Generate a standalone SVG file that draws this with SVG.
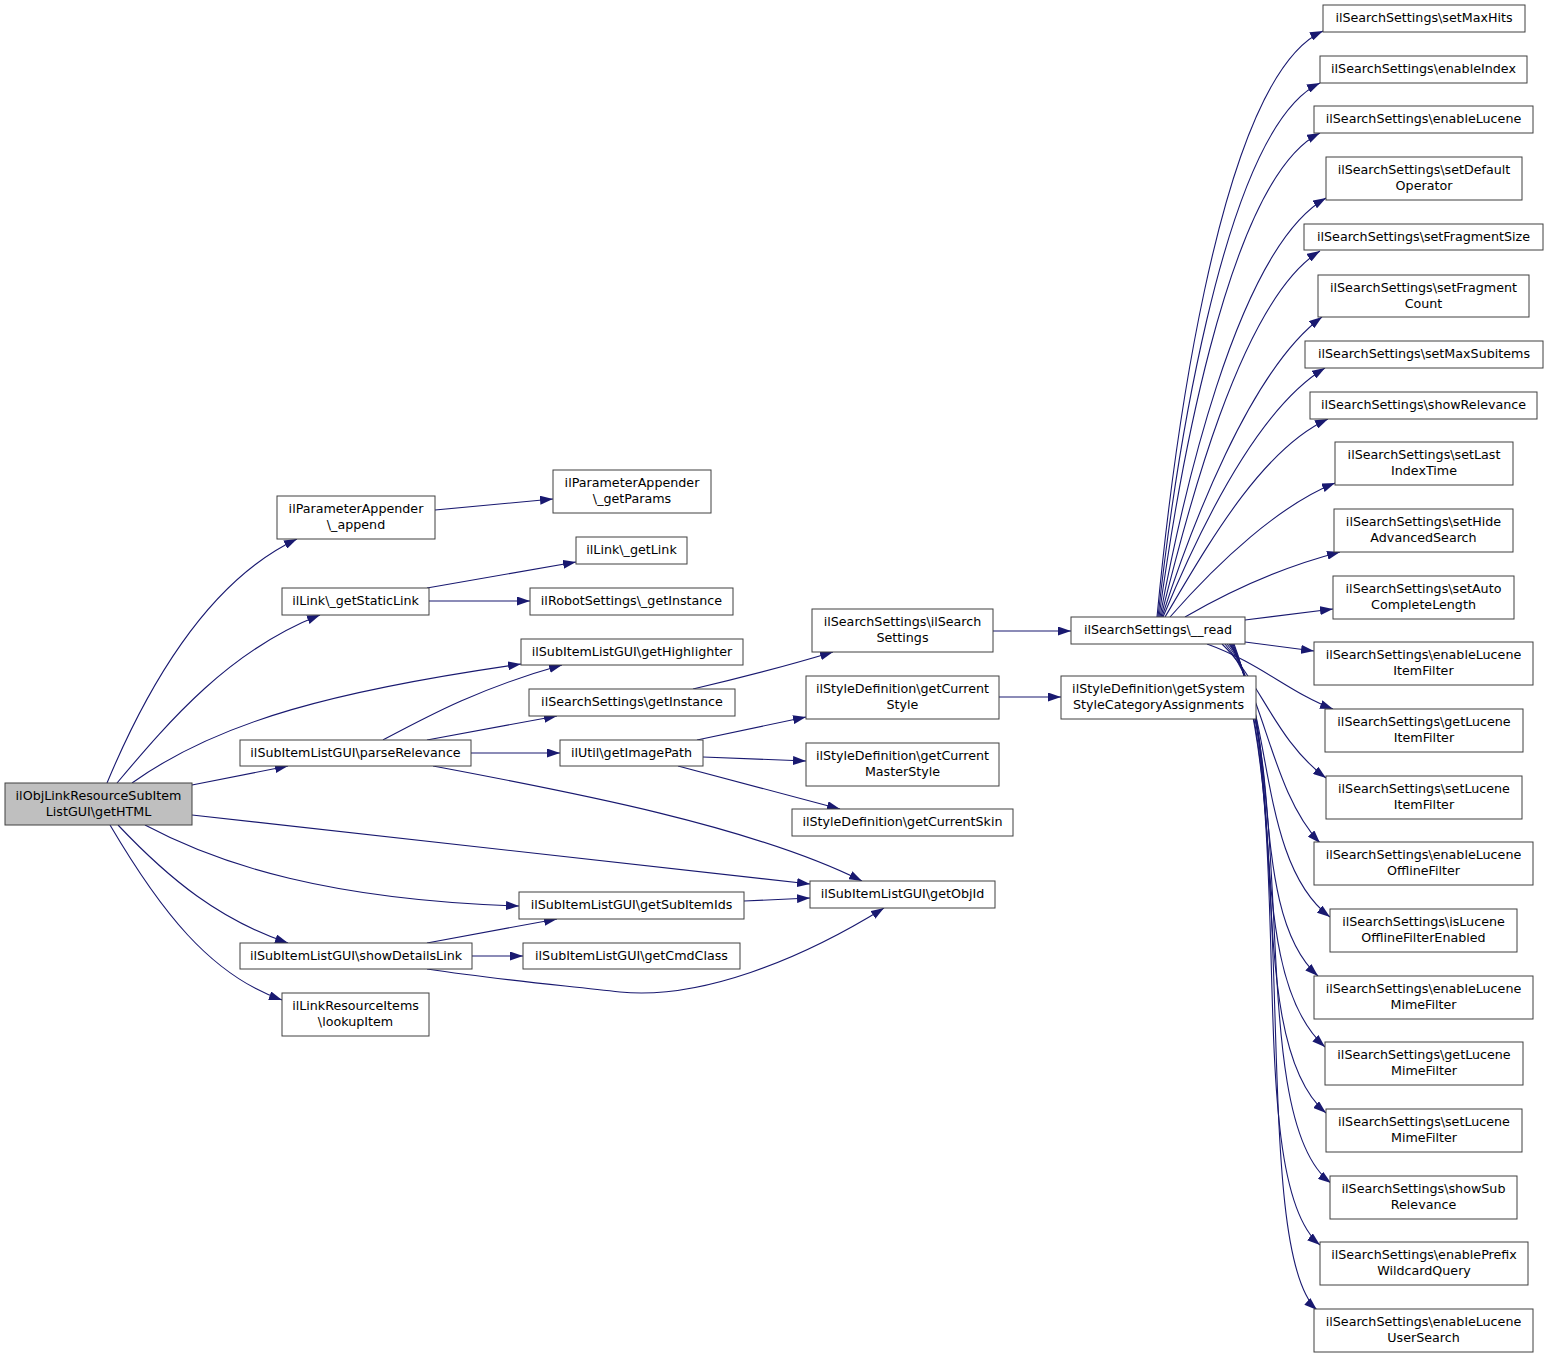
<svg xmlns="http://www.w3.org/2000/svg" width="1549" height="1357" viewBox="0 0 1549 1357">
<style>
.n rect{fill:#fff;stroke:#404040;stroke-width:1}
.n.root rect{fill:#bfbfbf}
.n text{font-family:"DejaVu Sans","Liberation Sans",sans-serif;font-size:12.7px;fill:#000;text-anchor:middle}
.e path{fill:none;stroke:#191970;stroke-width:1.1;marker-end:url(#ah)}
</style>
<defs>
<marker id="ah" markerUnits="userSpaceOnUse" markerWidth="13" markerHeight="9" refX="13" refY="4.5" orient="auto">
<path d="M0,0 L13,4.5 L0,9 z" fill="#191970" stroke="none"/>
</marker>
</defs>
<rect width="1549" height="1357" fill="#fff"/>
<g class="e" id="edges">
<path d="M107,783 C150,680 210,580 297,539"/>
<path d="M117,783 C170,720 230,650 320,615"/>
<path d="M132,783 C220,720 340,690 521,664"/>
<path d="M192,785 L288,766"/>
<path d="M192,815 L810,884"/>
<path d="M145,825 C220,865 330,900 519,906"/>
<path d="M118,825 C170,880 220,920 288,943"/>
<path d="M110,825 C160,910 210,975 282,1000"/>
<path d="M435,510 L553,499"/>
<path d="M427,588 L576,562"/>
<path d="M429,601 L530,601"/>
<path d="M383,740 C430,715 480,688 562,665"/>
<path d="M427,740 L557,716"/>
<path d="M471,753 L560,753"/>
<path d="M433,766 C560,790 750,825 862,881"/>
<path d="M693,689 C740,678 790,665 833,652"/>
<path d="M993,631 L1071,631"/>
<path d="M697,740 L806,717"/>
<path d="M703,757 L806,761"/>
<path d="M678,766 L840,809"/>
<path d="M999,697 L1061,697"/>
<path d="M744,901 L810,898"/>
<path d="M427,943 L557,919"/>
<path d="M472,956 L523,956"/>
<path d="M427,969 C500,980 560,985 620,992 C700,1000 800,960 884,908"/>
<path d="M1157,617 C1170,480 1215,80 1323,31"/>
<path d="M1158,617 C1172,490 1220,130 1320,83"/>
<path d="M1159,617 C1175,500 1225,180 1320,133"/>
<path d="M1160,617 C1180,510 1235,250 1326,198"/>
<path d="M1161,617 C1185,520 1240,300 1320,251"/>
<path d="M1162,617 C1190,530 1250,370 1322,317"/>
<path d="M1163,617 C1195,540 1255,410 1325,368"/>
<path d="M1165,617 C1205,550 1260,450 1328,419"/>
<path d="M1170,617 C1220,560 1280,505 1335,483"/>
<path d="M1185,617 C1240,585 1290,565 1340,552"/>
<path d="M1245,620 L1333,609"/>
<path d="M1245,642 L1314,651"/>
<path d="M1207,644 C1260,663 1290,693 1333,709"/>
<path d="M1222,644 C1260,680 1275,740 1326,778"/>
<path d="M1225,644 C1265,690 1270,790 1320,843"/>
<path d="M1227,644 C1275,700 1255,860 1330,917"/>
<path d="M1229,644 C1285,720 1245,910 1318,976"/>
<path d="M1230,644 C1290,740 1240,970 1325,1047"/>
<path d="M1231,644 C1295,760 1240,1040 1326,1113"/>
<path d="M1232,644 C1300,780 1245,1120 1331,1183"/>
<path d="M1233,644 C1300,800 1240,1180 1320,1245"/>
<path d="M1234,644 C1300,820 1250,1250 1317,1310"/>
</g>
<g class="n root" id="root"><rect x="5" y="783" width="187" height="42"/><text x="98.5" y="800">ilObjLinkResourceSubItem</text><text x="98.5" y="816">ListGUI\getHTML</text></g>
<g class="n" id="append"><rect x="277" y="496" width="158" height="43"/><text x="356" y="513">ilParameterAppender</text><text x="356" y="529">\_append</text></g>
<g class="n" id="getParams"><rect x="553" y="470" width="158" height="43"/><text x="632" y="487">ilParameterAppender</text><text x="632" y="503">\_getParams</text></g>
<g class="n" id="staticLink"><rect x="282" y="588" width="147" height="27"/><text x="355.5" y="605">ilLink\_getStaticLink</text></g>
<g class="n" id="getLink"><rect x="576" y="537" width="111" height="27"/><text x="631.5" y="554">ilLink\_getLink</text></g>
<g class="n" id="robot"><rect x="530" y="588" width="203" height="27"/><text x="631.5" y="605">ilRobotSettings\_getInstance</text></g>
<g class="n" id="highlighter"><rect x="521" y="639" width="222" height="26"/><text x="632" y="656">ilSubItemListGUI\getHighlighter</text></g>
<g class="n" id="ssGetInstance"><rect x="529" y="689" width="206" height="27"/><text x="632" y="706">ilSearchSettings\getInstance</text></g>
<g class="n" id="parseRel"><rect x="240" y="740" width="231" height="26"/><text x="355.5" y="757">ilSubItemListGUI\parseRelevance</text></g>
<g class="n" id="imagePath"><rect x="560" y="740" width="143" height="26"/><text x="631.5" y="757">ilUtil\getImagePath</text></g>
<g class="n" id="ssCtor"><rect x="812" y="609" width="181" height="43"/><text x="902.5" y="626">ilSearchSettings\ilSearch</text><text x="902.5" y="642">Settings</text></g>
<g class="n" id="curStyle"><rect x="806" y="676" width="193" height="43"/><text x="902.5" y="693">ilStyleDefinition\getCurrent</text><text x="902.5" y="709">Style</text></g>
<g class="n" id="masterStyle"><rect x="806" y="743" width="193" height="43"/><text x="902.5" y="760">ilStyleDefinition\getCurrent</text><text x="902.5" y="776">MasterStyle</text></g>
<g class="n" id="skin"><rect x="792" y="809" width="221" height="27"/><text x="902.5" y="826">ilStyleDefinition\getCurrentSkin</text></g>
<g class="n" id="objId"><rect x="810" y="881" width="185" height="27"/><text x="902.5" y="898">ilSubItemListGUI\getObjId</text></g>
<g class="n" id="subItemIds"><rect x="519" y="892" width="225" height="27"/><text x="631.5" y="909">ilSubItemListGUI\getSubItemIds</text></g>
<g class="n" id="showDetails"><rect x="240" y="943" width="232" height="26"/><text x="356" y="960">ilSubItemListGUI\showDetailsLink</text></g>
<g class="n" id="cmdClass"><rect x="523" y="943" width="217" height="26"/><text x="631.5" y="960">ilSubItemListGUI\getCmdClass</text></g>
<g class="n" id="lookup"><rect x="282" y="993" width="147" height="43"/><text x="355.5" y="1010">ilLinkResourceItems</text><text x="355.5" y="1026">\lookupItem</text></g>
<g class="n" id="read"><rect x="1071" y="617" width="174" height="27"/><text x="1158" y="634">ilSearchSettings\__read</text></g>
<g class="n" id="sysStyle"><rect x="1061" y="676" width="195" height="43"/><text x="1158.5" y="693">ilStyleDefinition\getSystem</text><text x="1158.5" y="709">StyleCategoryAssignments</text></g>
<g class="n" id="setMaxHits"><rect x="1323" y="5" width="202" height="27"/><text x="1424" y="22">ilSearchSettings\setMaxHits</text></g>
<g class="n" id="enableIndex"><rect x="1320" y="56" width="207" height="27"/><text x="1423.5" y="73">ilSearchSettings\enableIndex</text></g>
<g class="n" id="enableLucene"><rect x="1314" y="106" width="219" height="27"/><text x="1423.5" y="123">ilSearchSettings\enableLucene</text></g>
<g class="n" id="setDefaultOperator"><rect x="1326" y="157" width="196" height="43"/><text x="1424" y="174">ilSearchSettings\setDefault</text><text x="1424" y="190">Operator</text></g>
<g class="n" id="setFragmentSize"><rect x="1304" y="224" width="239" height="26"/><text x="1423.5" y="241">ilSearchSettings\setFragmentSize</text></g>
<g class="n" id="setFragmentCount"><rect x="1318" y="275" width="211" height="42"/><text x="1423.5" y="292">ilSearchSettings\setFragment</text><text x="1423.5" y="308">Count</text></g>
<g class="n" id="setMaxSubitems"><rect x="1305" y="341" width="238" height="27"/><text x="1424" y="358">ilSearchSettings\setMaxSubitems</text></g>
<g class="n" id="showRelevance"><rect x="1310" y="392" width="227" height="27"/><text x="1423.5" y="409">ilSearchSettings\showRelevance</text></g>
<g class="n" id="setLastIndexTime"><rect x="1335" y="442" width="178" height="43"/><text x="1424" y="459">ilSearchSettings\setLast</text><text x="1424" y="475">IndexTime</text></g>
<g class="n" id="setHideAdvancedSearch"><rect x="1334" y="509" width="179" height="43"/><text x="1423.5" y="526">ilSearchSettings\setHide</text><text x="1423.5" y="542">AdvancedSearch</text></g>
<g class="n" id="setAutoCompleteLength"><rect x="1333" y="576" width="181" height="43"/><text x="1423.5" y="593">ilSearchSettings\setAuto</text><text x="1423.5" y="609">CompleteLength</text></g>
<g class="n" id="enableLuceneItemFilter"><rect x="1314" y="642" width="219" height="43"/><text x="1423.5" y="659">ilSearchSettings\enableLucene</text><text x="1423.5" y="675">ItemFilter</text></g>
<g class="n" id="getLuceneItemFilter"><rect x="1325" y="709" width="198" height="43"/><text x="1424" y="726">ilSearchSettings\getLucene</text><text x="1424" y="742">ItemFilter</text></g>
<g class="n" id="setLuceneItemFilter"><rect x="1326" y="776" width="196" height="43"/><text x="1424" y="793">ilSearchSettings\setLucene</text><text x="1424" y="809">ItemFilter</text></g>
<g class="n" id="enableLuceneOfflineFilter"><rect x="1314" y="842" width="219" height="43"/><text x="1423.5" y="859">ilSearchSettings\enableLucene</text><text x="1423.5" y="875">OfflineFilter</text></g>
<g class="n" id="isLuceneOfflineFilterEnabled"><rect x="1330" y="909" width="187" height="43"/><text x="1423.5" y="926">ilSearchSettings\isLucene</text><text x="1423.5" y="942">OfflineFilterEnabled</text></g>
<g class="n" id="enableLuceneMimeFilter"><rect x="1314" y="976" width="219" height="43"/><text x="1423.5" y="993">ilSearchSettings\enableLucene</text><text x="1423.5" y="1009">MimeFilter</text></g>
<g class="n" id="getLuceneMimeFilter"><rect x="1325" y="1042" width="198" height="43"/><text x="1424" y="1059">ilSearchSettings\getLucene</text><text x="1424" y="1075">MimeFilter</text></g>
<g class="n" id="setLuceneMimeFilter"><rect x="1326" y="1109" width="196" height="43"/><text x="1424" y="1126">ilSearchSettings\setLucene</text><text x="1424" y="1142">MimeFilter</text></g>
<g class="n" id="showSubRelevance"><rect x="1330" y="1176" width="187" height="43"/><text x="1423.5" y="1193">ilSearchSettings\showSub</text><text x="1423.5" y="1209">Relevance</text></g>
<g class="n" id="enablePrefixWildcardQuery"><rect x="1320" y="1242" width="208" height="43"/><text x="1424" y="1259">ilSearchSettings\enablePrefix</text><text x="1424" y="1275">WildcardQuery</text></g>
<g class="n" id="enableLuceneUserSearch"><rect x="1314" y="1309" width="219" height="43"/><text x="1423.5" y="1326">ilSearchSettings\enableLucene</text><text x="1423.5" y="1342">UserSearch</text></g>
</svg>
